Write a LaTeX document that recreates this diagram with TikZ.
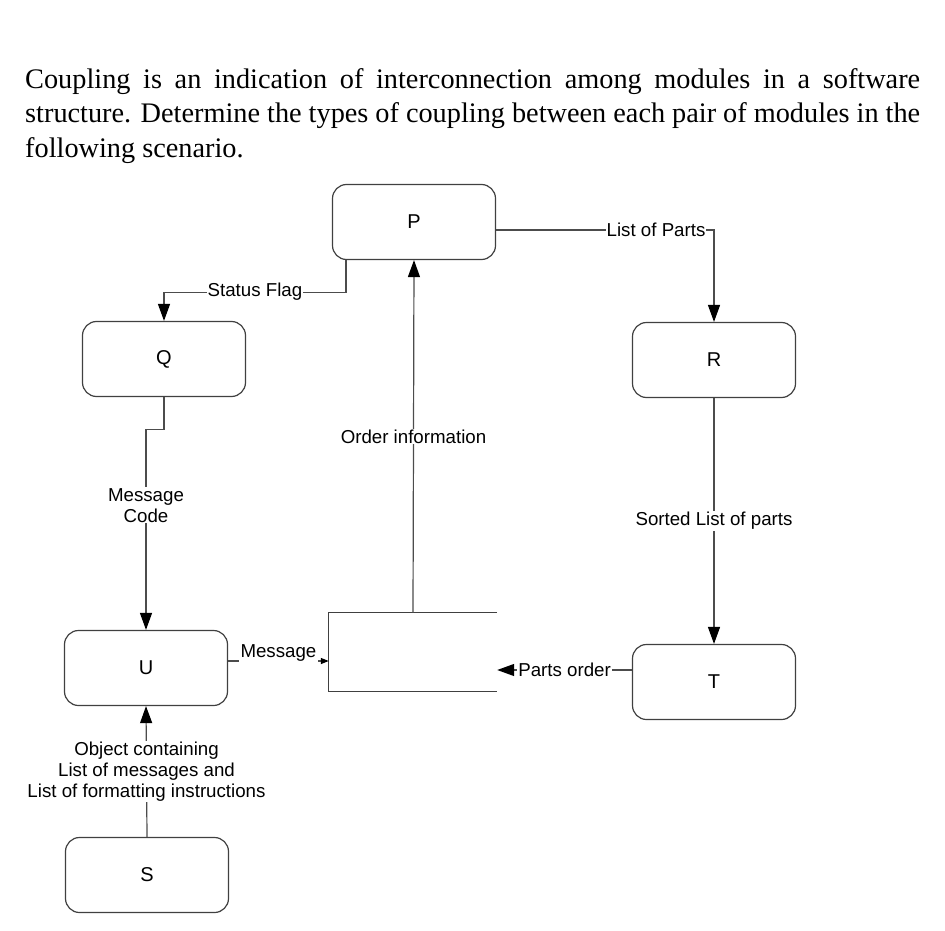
\documentclass[tikz,border=0pt]{standalone}
\usepackage{fontspec}
\setmainfont{Liberation Serif}
\newfontfamily\diagfont{Liberation Sans}
\usetikzlibrary{arrows.meta}

\begin{document}
\begin{tikzpicture}[x=1pt, y=-1pt,
  module/.style={draw=black!75, line width=1.2pt, rounded corners=14pt,
    minimum width=163pt, minimum height=75pt,
    font=\diagfont\fontsize{20}{24}\selectfont},
  flow/.style={draw=black!70, line width=1.2pt,
    -{Triangle[length=17pt,width=12pt,color=black]}},
  lbl/.style={fill=white, inner sep=1pt, align=center,
    font=\diagfont\fontsize{18.7}{21}\selectfont}]
  \useasboundingbox (0,0) rectangle (945,931);
  \node[anchor=north west, text width=895pt, align=justify, inner sep=0pt,
    font=\fontsize{28.3}{34.5}\selectfont] (task) at (25,68)
    {Coupling is an indication of interconnection among modules in a software\linebreak
     structure. Determine the types of coupling between each pair of modules in the\linebreak
     following scenario.};
  \node[module] (P) at (414,222) {P};
  \node[module] (Q) at (164,359) {Q};
  \node[module] (R) at (714,360) {R};
  \node[module] (U) at (146,668) {U};
  \node[module] (T) at (714,682) {T};
  \node[module] (S) at (147,875) {S};
  \node[minimum width=168pt, minimum height=78pt, inner sep=0pt] (store) at (413,652) {};
  \draw[draw=black!75, line width=1.2pt] (store.north east) -- (store.north west)
    -- (store.south west) -- (store.south east);
  \draw[flow] ([xshift=14pt]P.south west) -- ++(0,32) -| (Q.north)
    node[lbl, pos=0.25] {Status Flag};
  \draw[flow] ([yshift=-8pt]P.east) -| (R.north)
    node[lbl, pos=0.367] {List of Parts};
  \draw[flow] (Q.south) -- ++(0,32) -| (U.north)
    node[lbl, pos=0.69] {Message\\Code};
  \draw[flow] (store.north) -- (P.south)
    node[lbl, midway] {Order information};
  \draw[flow] (R.south) -- (T.north)
    node[lbl, midway] {Sorted List of parts};
  \draw[flow, -{Triangle[length=8pt,width=6pt,color=black]}] ([yshift=7pt]U.east)
    -- ([yshift=7pt]U.east -| store.west)
    node[lbl, midway, yshift=8pt, inner sep=2pt] {Message};
  \draw[flow] ([yshift=12pt]T.west) -- ([yshift=12pt]T.west -| store.east)
    node[lbl, midway] {Parts order};
  \draw[flow] (S.north) -- (U.south)
    node[lbl, midway] {Object containing\\List of messages and\\List of formatting instructions};
\end{tikzpicture}
\end{document}
